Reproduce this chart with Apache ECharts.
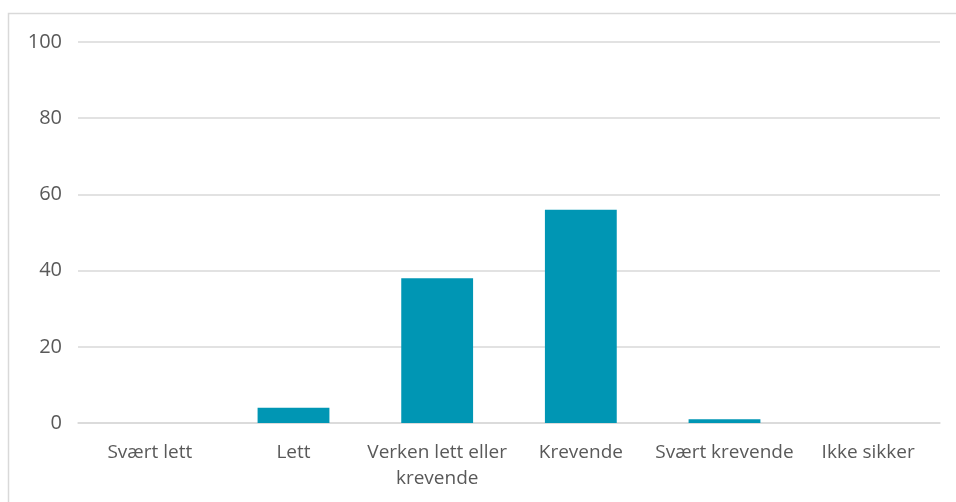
<!DOCTYPE html>
<html>
<head>
<meta charset="utf-8">
<script src="https://cdn.jsdelivr.net/npm/echarts@6/dist/echarts.min.js"></script>
<style>
  html, body { margin: 0; padding: 0; background: #fff; }
  #chart { width: 956px; height: 502px; }
</style>
</head>
<body>
<div id="chart"></div>
<script>
var categories = ['Svært lett', 'Lett', 'Verken lett eller\nkrevende', 'Krevende', 'Svært krevende', 'Ikke sikker'];
var values = [0, 4, 38, 56, 1, 0];
var yTicks = [0, 20, 40, 60, 80, 100];

var chart = echarts.init(document.getElementById('chart'));
chart.setOption({
  animation: false,
  textStyle: { fontFamily: '"Open Sans", sans-serif' },
  graphic: [{
    type: 'rect',
    shape: { x: 8.5, y: 13.5, width: 1000, height: 600 },
    style: { fill: 'none', stroke: '#d9d9d9', lineWidth: 1.5 },
    silent: true
  }],
  grid: { left: 78, right: 16, top: 42, bottom: 79 },
  xAxis: {
    type: 'category',
    data: categories,
    axisTick: { show: false },
    axisLine: { lineStyle: { color: '#d9d9d9', width: 1.5 } },
    axisLabel: { color: '#595959', fontSize: 19, margin: 17, lineHeight: 26, interval: 0 }
  },
  yAxis: {
    type: 'value',
    min: yTicks[0],
    max: yTicks[yTicks.length - 1],
    interval: 20,
    axisLine: { show: false },
    axisTick: { show: false },
    splitLine: { lineStyle: { color: '#d9d9d9', width: 1.5 } },
    axisLabel: { color: '#595959', fontSize: 20, margin: 16 }
  },
  series: [{
    type: 'bar',
    data: values,
    barWidth: '50%',
    itemStyle: { color: '#0096b4' }
  }]
});
</script>
</body>
</html>
